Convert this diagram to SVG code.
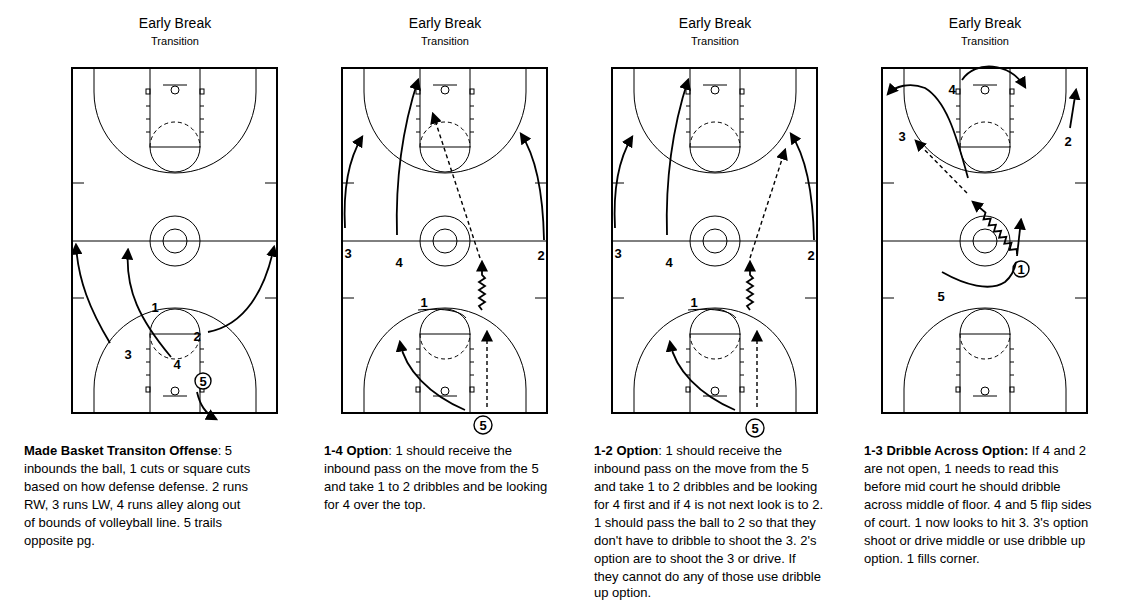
<svg xmlns="http://www.w3.org/2000/svg" xmlns:xlink="http://www.w3.org/1999/xlink" width="1124" height="600" viewBox="0 0 1124 600">
<style>
.ln{fill:none;stroke:#000;stroke-width:1}
.ds{fill:none;stroke:#000;stroke-width:1;stroke-dasharray:4,3}
.mv{fill:none;stroke:#000;stroke-width:1.8;marker-end:url(#ah)}
.ps{fill:none;stroke:#000;stroke-width:1.4;stroke-dasharray:4,3;marker-end:url(#ah)}
.t1{font-family:"Liberation Sans",Arial,sans-serif;font-size:14px;text-anchor:middle}
.t2{font-family:"Liberation Sans",Arial,sans-serif;font-size:11px;text-anchor:middle}
.pl{font-family:"Liberation Sans",Arial,sans-serif;font-size:13px;font-weight:bold;text-anchor:middle}
.ds2{font-family:"Liberation Sans",Arial,sans-serif;font-size:13px}
.pc{fill:#fff;stroke:#000;stroke-width:1.4}
</style>
<defs>
<marker id="ah" viewBox="0 0 10 10" refX="8" refY="5" markerWidth="12" markerHeight="12" markerUnits="userSpaceOnUse" orient="auto"><path d="M0,0 L10,5 L0,10 z" fill="#000"/></marker>
<g id="half">
<path class="ln" d="M94,68 V92 A81,81 0 0 0 256,92 V68"/>
<rect class="ln" x="150" y="68" width="50" height="79"/>
<path class="ln" d="M150,147 A25,25 0 0 0 200,147"/>
<path class="ds" d="M150,147 A25,25 0 0 1 200,147"/>
<path class="ln" d="M163,85 H187 M146,106 H150 M146,119 H150 M146,132 H150 M200,106 H204 M200,119 H204 M200,132 H204 M72,183 H84 M265,183 H277"/>
<circle class="ln" cx="175" cy="90" r="4"/>
<rect class="ln" x="146" y="89" width="4" height="5"/>
<rect class="ln" x="200" y="89" width="4" height="5"/>
</g>
<g id="court">
<rect x="72" y="68" width="205" height="345" fill="#fff" stroke="#000" stroke-width="2"/>
<use xlink:href="#half" href="#half"/>
<use xlink:href="#half" href="#half" transform="matrix(1,0,0,-1,0,481)"/>
<path class="ln" d="M72,241 H277"/>
<circle class="ln" cx="175" cy="241" r="25"/>
<circle class="ln" cx="175" cy="241" r="12"/>
</g>
</defs>
<rect width="1124" height="600" fill="#fff"/>

<g id="court1">
<use xlink:href="#court" href="#court"/>
<text class="t1" x="175" y="28">Early Break</text><text class="t2" x="175" y="45">Transition</text>
<text class="pl" x="128" y="359">3</text><text class="pl" x="177" y="369">4</text><text class="pl" x="155" y="312">1</text><text class="pl" x="197" y="341">2</text>
<circle class="pc" cx="203" cy="381" r="8"/><text class="pl" x="203" y="386">5</text>
</g>
<g id="court2">
<use xlink:href="#court" href="#court" transform="translate(270,0)"/>
<text class="t1" x="445" y="28">Early Break</text><text class="t2" x="445" y="45">Transition</text>
<text class="pl" x="348" y="258">3</text><text class="pl" x="399" y="267">4</text><text class="pl" x="541" y="260">2</text><text class="pl" x="424" y="307">1</text>
<circle class="pc" cx="483" cy="425" r="9"/><text class="pl" x="483" y="430">5</text>
</g>
<g id="court3">
<use xlink:href="#court" href="#court" transform="translate(540,0)"/>
<text class="t1" x="715" y="28">Early Break</text><text class="t2" x="715" y="45">Transition</text>
<text class="pl" x="618" y="258">3</text><text class="pl" x="669" y="267">4</text><text class="pl" x="811" y="260">2</text><text class="pl" x="694" y="307">1</text>
<circle class="pc" cx="755" cy="428" r="9"/><text class="pl" x="755" y="433">5</text>
</g>
<g id="court4">
<use xlink:href="#court" href="#court" transform="translate(810,0)"/>
<text class="t1" x="985" y="28">Early Break</text><text class="t2" x="985" y="45">Transition</text>
<text class="pl" x="952" y="94">4</text><text class="pl" x="1068" y="146">2</text><text class="pl" x="902" y="141">3</text><text class="pl" x="941" y="301">5</text>
<circle class="pc" cx="1021" cy="269" r="8"/><text class="pl" x="1021" y="274">1</text>
</g>

<g id="connectors">
<path class="mv" d="M110,343 C90,310 78,280 76,245"/>
<path class="mv" d="M171,357 C140,320 125,290 128,250"/>
<path class="mv" d="M208,332 C245,325 265,290 274,247"/>
<path class="mv" d="M197,392 C200,405 205,413 216,419"/>

<path class="mv" d="M345,228 C343,190 348,160 362,137"/>
<path class="mv" d="M397,235 C395,170 405,120 418,80"/>
<path class="mv" d="M544,240 C543,190 535,155 521,134"/>
<path class="ln" stroke-width="1.6" d="M418,310 C440,308 460,310 466,318"/>
<path class="mv" d="M482,310 L479,306 L485,302 L479,298 L485,294 L479,290 L485,286 L479,282 L485,278 L482,275 V262"/>
<path class="ps" d="M480,258 L433,114"/>
<path class="ps" d="M487,407 V332"/>
<path class="mv" d="M465,410 C430,395 405,370 400,342"/>

<path class="mv" d="M615,228 C613,190 618,160 632,137"/>
<path class="mv" d="M667,235 C665,170 675,120 688,80"/>
<path class="mv" d="M814,240 C813,190 805,155 791,134"/>
<path class="ln" stroke-width="1.6" d="M688,310 C710,308 730,310 736,318"/>
<path class="mv" d="M750,310 L747,306 L753,302 L747,298 L753,294 L747,290 L753,286 L747,282 L753,278 L750,275 V262"/>
<path class="ps" d="M750,258 L785,150"/>
<path class="ps" d="M757,407 V332"/>
<path class="mv" d="M735,410 C700,395 675,370 670,342"/>

<path class="mv" d="M962,80 C975,60 1010,62 1025,87"/>
<path class="mv" d="M1070,128 L1076,90"/>
<path class="mv" d="M968,178 C955,130 945,100 925,88 C910,82 895,86 888,94"/>
<path class="ps" d="M967,193 L916,141"/>
<path class="mv" stroke-width="1.4" d="M1017,254 L1016.7,249 L1009.5,249.9 L1011.5,242.9 L1004.3,243.8 L1006.3,236.9 L999.1,237.7 L1001.1,230.8 L993.9,231.6 L995.9,224.7 L988.7,225.5 L990.7,218.6 L983.5,219.5 L985.5,212.5 L973,202"/>
<path class="mv" d="M1017,256 L1021,220"/>
<path class="mv" style="marker-end:none" d="M942,272 C965,285 990,292 1005,282 C1012,276 1015,268 1016,262"/>
</g>

<g id="descriptions">
<text class="ds2" x="24" y="455"><tspan font-weight="bold">Made Basket Transiton Offense</tspan>: 5</text>
<text class="ds2" x="24" y="473">inbounds the ball, 1 cuts or square cuts</text>
<text class="ds2" x="24" y="491">based on how defense defense. 2 runs</text>
<text class="ds2" x="24" y="509">RW, 3 runs LW, 4 runs alley along out</text>
<text class="ds2" x="24" y="527">of bounds of volleyball line. 5 trails</text>
<text class="ds2" x="24" y="545">opposite pg.</text>

<text class="ds2" x="324" y="455"><tspan font-weight="bold">1-4 Option</tspan>: 1 should receive the</text>
<text class="ds2" x="324" y="473">inbound pass on the move from the 5</text>
<text class="ds2" x="324" y="491">and take 1 to 2 dribbles and be looking</text>
<text class="ds2" x="324" y="509">for 4 over the top.</text>

<text class="ds2" x="594" y="455"><tspan font-weight="bold">1-2 Option</tspan>: 1 should receive the</text>
<text class="ds2" x="594" y="473">inbound pass on the move from the 5</text>
<text class="ds2" x="594" y="491">and take 1 to 2 dribbles and be looking</text>
<text class="ds2" x="594" y="509">for 4 first and if 4 is not next look is to 2.</text>
<text class="ds2" x="594" y="527">1 should pass the ball to 2 so that they</text>
<text class="ds2" x="594" y="545">don't have to dribble to shoot the 3. 2's</text>
<text class="ds2" x="594" y="563">option are to shoot the 3 or drive. If</text>
<text class="ds2" x="594" y="581">they cannot do any of those use dribble</text>
<text class="ds2" x="594" y="597">up option.</text>

<text class="ds2" x="864" y="455"><tspan font-weight="bold">1-3 Dribble Across Option:</tspan> If 4 and 2</text>
<text class="ds2" x="864" y="473">are not open, 1 needs to read this</text>
<text class="ds2" x="864" y="491">before mid court he should dribble</text>
<text class="ds2" x="864" y="509">across middle of floor. 4 and 5 flip sides</text>
<text class="ds2" x="864" y="527">of court. 1 now looks to hit 3. 3's option</text>
<text class="ds2" x="864" y="545">shoot or drive middle or use dribble up</text>
<text class="ds2" x="864" y="563">option. 1 fills corner.</text>
</g>
</svg>
